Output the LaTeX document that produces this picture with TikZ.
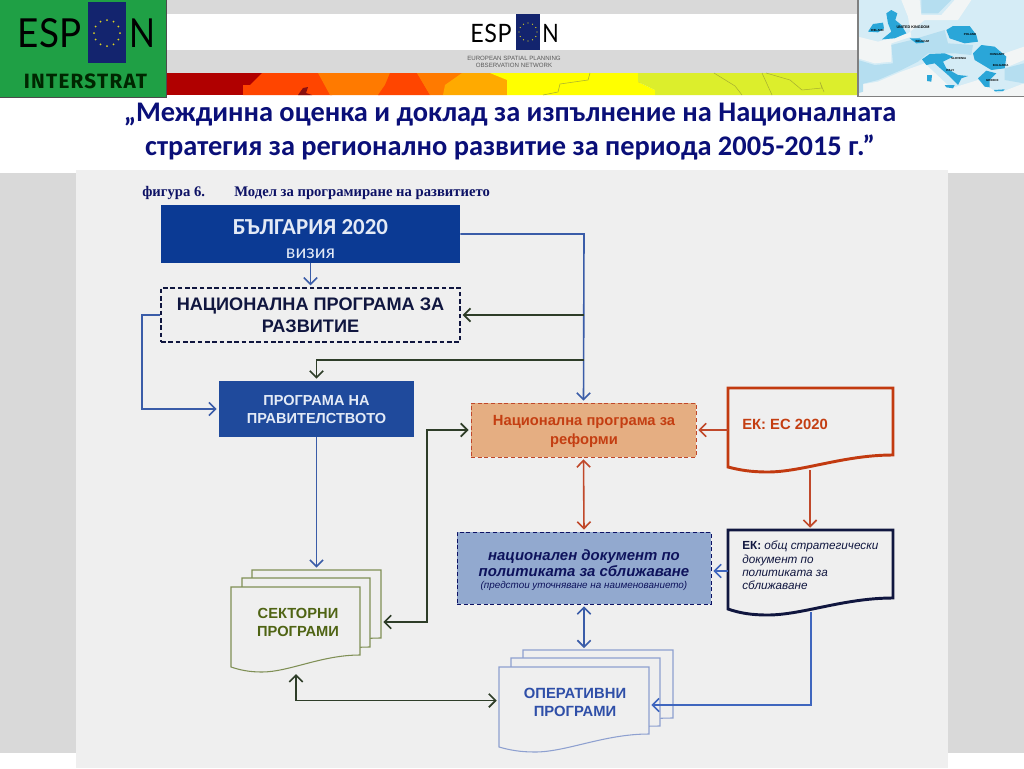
\documentclass[tikz,border=0pt]{standalone}
\usepackage{fontspec}
\setmainfont{Liberation Sans}
\newfontfamily\carl{Carlito}
\newfontfamily\serf{Liberation Serif}
\newfontfamily\latospaced[LetterSpace=2]{Lato}
\newfontfamily\firaspaced[LetterSpace=6]{Fira Sans}
\usetikzlibrary{arrows.meta,calc}
\definecolor{panel}{HTML}{EFEFEF}
\definecolor{band}{HTML}{D9D9D9}
\definecolor{logogreen}{HTML}{1FA045}
\definecolor{flagblue}{HTML}{13246E}
\definecolor{titleblue}{HTML}{0A0F78}
\definecolor{lineblue}{HTML}{3A5CA8}
\definecolor{lineblueb}{HTML}{3F66BE}
\definecolor{linegreen}{HTML}{2E3D28}
\definecolor{linered}{HTML}{C0482A}
\definecolor{navytext}{HTML}{10163F}
\definecolor{redtext}{HTML}{C43E12}
\definecolor{mapblue}{HTML}{2AA6D8}
\definecolor{mapmid}{HTML}{B5DEF0}
\definecolor{mappale}{HTML}{D5ECF6}
\definecolor{mapwhite}{HTML}{F2F5F5}
\definecolor{cDarkred}{HTML}{B00000}
\definecolor{cRedor}{HTML}{FF4500}
\definecolor{cOrange}{HTML}{FF7A00}
\definecolor{cGold}{HTML}{FFAA00}
\definecolor{cYellow}{HTML}{FFFF00}
\definecolor{cLime}{HTML}{DCEE2C}
\definecolor{cSpot}{HTML}{8A1010}
\definecolor{cBorder}{HTML}{A8B030}
\definecolor{bulgblue}{HTML}{0B3A94}
\definecolor{govblue}{HTML}{1F4A9C}
\definecolor{lighttext}{HTML}{E3EAF6}
\definecolor{reffill}{HTML}{E5AE82}
\definecolor{natfill}{HTML}{92A9CF}
\definecolor{olive}{HTML}{7F8F55}
\definecolor{olivetext}{HTML}{4F6414}
\definecolor{opline}{HTML}{8EA0D0}
\definecolor{optext}{HTML}{2F4FA8}
\definecolor{ekred}{HTML}{C23A10}
\tikzset{
  px/.style={x=0.75pt,y=-0.75pt},
  conn/.style={line width=1.2pt,shorten >=1.5pt,shorten <=0pt},
  head/.style={-{Straight Barb[length=5pt,width=10pt]}},
  twohead/.style={{Straight Barb[length=5pt,width=10pt]}-{Straight Barb[length=5pt,width=10pt]},shorten <=1.5pt},
  bluec/.style={conn,draw=lineblue},
  bluecb/.style={conn,draw=lineblueb},
  greenc/.style={conn,line width=1.3pt,draw=linegreen},
  redc/.style={conn,draw=linered},
  boxnode/.style={inner sep=0pt,align=center,font=\bfseries},
  areanode/.style={inner sep=0pt,align=center,font=\bfseries},
  mlabel/.style={font=\bfseries\fontsize{2.2}{3}\selectfont,inner sep=0pt},
  mapline/.style={draw=cBorder,line width=.4pt},
}
% \wavedoc{style}{xl}{xr}{yt}{yrb}{ylb}{ymin}
\newcommand\wavedoc[7]{%
  \draw[#1] (#2,#4) -- (#3,#4) -- (#3,#5)
    .. controls ({#3-0.3*(#3-#2)},#5) and ({#2+0.45*(#3-#2)},#7) .. ({#2+0.24*(#3-#2)},#7)
    .. controls ({#2+0.14*(#3-#2)},#7) and ({#2+0.07*(#3-#2)},{#7-2}) .. (#2,#6) -- cycle;}
\newcommand\euflag[4]{% cx cy radius dotsize
  \foreach \a in {0,30,...,330} \fill[yellow!85!black] ($(#1,#2)+(\a:#3*0.75pt)$) circle (#4);}
% area node spanning a rectangle: name, xl, xr, yt, yb, options, text
\newcommand\areabox[7]{%
  \node[#6,minimum width={(#3-#2)*0.75pt},minimum height={(#5-#4)*0.75pt}] (#1) at ({(#2+#3)/2},{(#4+#5)/2}) {#7};}
\begin{document}
\begin{tikzpicture}[px]
\useasboundingbox (0,0) rectangle (1024,768);
\fill[white] (0,0) rectangle (1024,768);
% background
\fill[band] (0,173) rectangle (1024,753);
\fill[panel] (76,170) rectangle (948,768);
% top strip
\fill[band] (166,0) rectangle (858,73);
\fill[white] (166,14) rectangle (858,50);
% colour map band
\fill[cOrange] (166,73) rectangle (640,95);
\fill[cDarkred] (166,73) rectangle (262,95);
\fill[cRedor] (262,73) -- (320,73) -- (332,95) -- (243,95) -- (243,85) -- (250,85) -- cycle;
\fill[cOrange] (318,73) -- (392,73) -- (380,95) -- (330,95) -- cycle;
\fill[cRedor] (390,73) -- (417,73) -- (427,90) -- (430,95) -- (378,95) -- (385,85) -- cycle;
\fill[cOrange] (417,73) -- (462,73) -- (440,85) -- (443,95) -- (430,95) -- cycle;
\fill[cGold] (462,73) -- (492,73) -- (507,80) -- (507,95) -- (443,95) -- (445,85) -- cycle;
\fill[cYellow] (490,73) -- (638,73) -- (638,82) -- (655,90) -- (655,95) -- (507,95) -- (507,80) -- cycle;
\fill[cLime] (638,73) -- (858,73) -- (858,95) -- (655,95) -- (655,90) -- (638,82) -- cycle;
\fill[cSpot] (298,95) -- (303,88) -- (308,87) -- (306,93) -- (312,95) -- cycle;
\draw[mapline] (590,73) -- (588,80) -- (560,84) -- (558,92) -- (543,95);
\draw[mapline] (714,73) -- (735,86) -- (742,95);
\draw[mapline] (762,73) -- (772,95);
\draw[mapline] (766,73) -- (790,80) -- (802,90) -- (822,88) -- (820,82) -- (824,92);
% centre ESPON logo
\fill[flagblue] (516,14) rectangle (540,50);
\euflag{528}{32}{9}{.7}
\node[font=\latospaced\fontsize{19}{19}\selectfont,text=black,inner sep=0pt,transform shape,xscale=.92] (espcA) at (491,33) {ESP};
\node[font=\latospaced\fontsize{19}{19}\selectfont,text=black,inner sep=0pt,transform shape,xscale=.85] (espcB) at (550.5,33) {N};
\node[font=\fontsize{4.6}{5.4}\selectfont,text=black!65,align=center,inner sep=0pt] (espcC) at (514,61.5) {EUROPEAN SPATIAL PLANNING\\OBSERVATION NETWORK};
% green logo
\fill[logogreen] (0,0) rectangle (166,97);
\draw[black!70,line width=.5pt] (166,0) -- (166,97) -- (0,97);
\fill[flagblue] (88,2) rectangle (126,63);
\euflag{107}{33}{13}{1}
\node[font=\latospaced\fontsize{30}{30}\selectfont,text=black,inner sep=0pt,transform shape,xscale=.92] (esplA) at (49.5,33) {ESP};
\node[font=\latospaced\fontsize{30}{30}\selectfont,text=black,inner sep=0pt,transform shape,xscale=.85] (esplB) at (142,33) {N};
\node[font=\firaspaced\bfseries\fontsize{15.5}{16}\selectfont,text=black!85!green,inner sep=0pt] (esplC) at (85.5,81) {INTERSTRAT};
% European map
\begin{scope}[shift={(858,0)},x=0.25pt,y=-0.25pt]
\begin{scope}
\clip (0,0) rectangle (498,288);
\fill[mappale] (0,0) rectangle (498,288);
\fill[mapwhite] (0,110) -- (60,125) -- (150,100) -- (200,60) -- (300,60) -- (340,0) -- (290,0) -- (250,45) -- (190,45) -- (185,0) -- (130,0) -- (150,50) -- (160,110) -- (100,130) -- (100,185) -- (50,190) -- (0,175) -- cycle;
\fill[mapmid] (190,0) -- (280,0) -- (240,40) -- (190,40) -- cycle;
\fill[mapmid] (100,135) -- (160,120) -- (260,90) -- (270,130) -- (345,135) -- (340,165) -- (290,160) -- (210,160) -- (180,185) -- (130,210) -- (60,240) -- (0,255) -- (0,180) -- (50,195) -- (105,190) -- cycle;
\fill[mappale] (300,60) -- (498,20) -- (498,130) -- (450,165) -- (360,130) -- (360,80) -- cycle;
\fill[mapwhite] (0,255) -- (60,245) -- (130,215) -- (200,190) -- (280,265) -- (360,240) -- (420,280) -- (498,250) -- (498,288) -- (0,288) -- cycle;
\fill[mapmid] (0,250) -- (15,250) -- (15,275) -- (0,280) -- cycle;
\fill[mapwhite] (440,160) -- (498,140) -- (498,180) -- (450,200) -- cycle;
\fill[mapmid] (440,205) -- (498,190) -- (498,250) -- (440,240) -- cycle;
\fill[mapblue] (30,95) -- (45,72) -- (75,68) -- (78,85) -- (60,97) -- cycle;
\fill[mapblue] (85,40) -- (100,30) -- (118,40) -- (112,60) -- (130,75) -- (145,100) -- (110,115) -- (72,118) -- (100,95) -- (90,70) -- cycle;
\fill[mapblue] (155,115) -- (185,115) -- (200,128) -- (175,130) -- cycle;
\fill[mapblue] (265,90) -- (285,78) -- (335,78) -- (355,105) -- (360,125) -- (320,130) -- (275,115) -- cycle;
\fill[mapblue] (345,160) -- (370,135) -- (410,140) -- (445,170) -- (440,205) -- (400,210) -- (375,195) -- (350,180) -- cycle;
\fill[mapblue] (360,235) -- (385,212) -- (415,220) -- (395,240) -- (395,262) -- (380,260) -- cycle;
\fill[mapblue] (192,178) -- (215,162) -- (260,160) -- (285,170) -- (255,185) -- (265,205) -- (300,225) -- (330,228) -- (310,235) -- (300,255) -- (270,225) -- (230,190) -- (205,195) -- cycle;
\fill[mapblue] (207,225) -- (222,225) -- (220,245) -- (207,243) -- cycle;
\fill[mapblue] (260,255) -- (290,255) -- (285,265) -- (265,262) -- cycle;
\fill[mapblue] (408,270) -- (440,268) -- (435,273) -- (410,274) -- cycle;
\end{scope}
\node[font=\bfseries\fontsize{2.8}{3}\selectfont,inner sep=0pt] (mUK) at (165,83) {UNITED KINGDOM};
\node[mlabel] (mIE) at (58,90) {IRELAND};
\node[mlabel] (mBE) at (193,125) {BELGIUM};
\node[mlabel] (mPL) at (336,103) {POLAND};
\node[mlabel] (mHU) at (418,162) {HUNGARY};
\node[mlabel] (mBG) at (428,197) {BULGARIA};
\node[mlabel] (mSI) at (302,174) {SLOVENIA};
\node[mlabel] (mIT) at (277,211) {ITALY};
\node[mlabel] (mGR) at (403,241) {GREECE};
\draw[black!50,line width=.8pt] (0,0) -- (0,289) -- (664,289);
\end{scope}
% title
\node[font=\carl\bfseries\fontsize{21.3}{25}\selectfont,text=titleblue,align=center,inner sep=0pt] (title) at (510,131.5) {„Междинна оценка и доклад за изпълнение на Националната\\стратегия за регионално развитие за периода 2005-2015 г.”};
% caption
\node[font=\serf\bfseries\fontsize{11}{12}\selectfont,text=navytext!80!blue,anchor=base west,inner sep=0pt] (capA) at (142,196.5) {фигура 6.};
\node[font=\serf\bfseries\fontsize{11}{12}\selectfont,text=navytext!80!blue,anchor=base west,inner sep=0pt] (capB) at (234,196.5) {Модел за програмиране на развитието};
% boxes
\areabox{bg}{161}{460}{205}{263}{fill=bulgblue}{}
\node[font=\carl\bfseries\fontsize{17.2}{18}\selectfont,text=lighttext,inner sep=0pt] (bgT) at (310.5,227) {БЪЛГАРИЯ 2020};
\node[font=\carl\fontsize{15}{16}\selectfont,text=lighttext,inner sep=0pt] (bgV) at (310.5,254) {визия};
\areabox{npr}{161}{460}{288}{342}{boxnode,draw=navytext,dash pattern=on 3.5pt off 2pt,line width=.9pt,text=navytext,font=\bfseries\fontsize{13.6}{16.5}\selectfont}{НАЦИОНАЛНА ПРОГРАМА ЗА\\РАЗВИТИЕ}
\areabox{gov}{219}{414}{381}{437}{boxnode,fill=govblue,text=lighttext,font=\bfseries\fontsize{10.9}{13.5}\selectfont}{ПРОГРАМА НА\\ПРАВИТЕЛСТВОТО}
\areabox{nrf}{471}{696}{403}{457}{boxnode,fill=reffill,draw=linered,densely dashed,line width=.6pt}{}
\node[font=\bfseries\fontsize{11.05}{13.8}\selectfont,text=redtext,align=center,inner sep=0pt] (nrfT) at (584,431.5) {Национална програма за\\реформи};
\areabox{nat}{457}{711}{532}{604}{boxnode,fill=natfill,draw=navytext!80!blue,densely dashed,line width=.7pt,text=navytext!85!blue}{}
\node[font=\bfseries\itshape\fontsize{11.2}{12.5}\selectfont,text=navytext!85!blue,align=center,inner sep=0pt] (natT) at (584,563) {национален документ по\\политиката за сближаване};
\node[font=\itshape\fontsize{7.4}{8}\selectfont,text=navytext!85!blue,inner sep=0pt] (natS) at (584,586) {(предстои уточняване на наименованието)};
% EC documents
\wavedoc{draw=ekred,line width=2.2pt,line join=miter}{728}{893}{388}{455}{467}{472}
\areabox{ekA}{728}{893}{388}{472}{areanode}{}
\node[font=\bfseries\fontsize{11.1}{12}\selectfont,text=redtext,anchor=west,inner sep=0pt] (ekAT) at (742,424) {ЕК: ЕС 2020};
\wavedoc{draw=navytext,line width=2.2pt,line join=miter}{728}{893}{530}{598}{609}{615}
\areabox{ekB}{728}{893}{530}{615}{areanode}{}
\node[font=\fontsize{8.8}{10}\selectfont,text=navytext,anchor=north west,align=left,inner sep=0pt] (ekBT) at (742,541) {\textbf{ЕК:} \textit{общ стратегически}\\\textit{документ по}\\\textit{политиката за}\\\textit{сближаване}};
% sector programmes stack
\wavedoc{draw=olive,fill=panel,line width=.8pt}{252}{381}{570}{638}{650}{650}
\areabox{secC}{252}{381}{570}{638}{areanode}{}
\wavedoc{draw=olive,fill=panel,line width=.8pt}{242}{370}{578}{647}{660}{660}
\areabox{secB}{242}{370}{578}{647}{areanode}{}
\wavedoc{draw=olive,fill=panel,line width=.8pt}{231}{360}{587}{655}{667}{672}
\areabox{secA}{231}{360}{587}{672}{areanode}{}
\node[font=\bfseries\fontsize{11}{13.1}\selectfont,text=olivetext,align=center,inner sep=0pt] (secT) at (298,622.5) {СЕКТОРНИ\\ПРОГРАМИ};
% operational programmes stack
\wavedoc{draw=opline,fill=panel,line width=.8pt}{523}{673}{650}{718}{730}{730}
\areabox{opC}{523}{673}{650}{718}{areanode}{}
\wavedoc{draw=opline,fill=panel,line width=.8pt}{511}{660}{658}{726}{738}{738}
\areabox{opB}{511}{660}{658}{726}{areanode}{}
\wavedoc{draw=opline,fill=panel,line width=.8pt}{499}{649}{667}{734}{747}{752}
\areabox{opA}{499}{649}{667}{752}{areanode}{}
\node[font=\bfseries\fontsize{11.1}{13.5}\selectfont,text=optext,align=center,inner sep=0pt] (opT) at (575,702) {ОПЕРАТИВНИ\\ПРОГРАМИ};
% junctions
\coordinate (jTop) at (584,234);
\coordinate (jMid) at (584,315);
\coordinate (jGov) at (584,360);
\coordinate (jL) at (142,315);
\coordinate (jL2) at (142,409);
\coordinate (jS) at (427,622);
\coordinate (jN) at (427,430);
\coordinate (jSO) at (296,700.5);
\coordinate (jEkB) at (811,705);
\coordinate (jEkR) at (728,571);
\coordinate (jSecBot) at (296,672);
\coordinate (jEkBot) at (811,612);
\coordinate (jEkAbot) at (810,470);
\coordinate (jOpTop) at (584,650);
% connectors
\draw[bluec,head] (bg.south) -- (npr.north);
\draw[bluec,head] (bg.east) -- (jTop) -- (nrf.north);
\draw[greenc,head] (jMid) -- (npr.east);
\draw[greenc,head] (jGov) -- (jGov -| gov.north) -- (gov.north);
\draw[bluec,head] (npr.west) -- (jL) -- (jL2) -- (gov.west);
\draw[bluec,head] (gov.south) -- (secC.north);
\draw[greenc,twohead] (secC.east |- jS) -- (jS) -- (jN) -- (nrf.west);
\draw[redc,twohead] (nrf.south) -- (nat.north);
\draw[redc,head] (ekA.west |- nrf.west) -- (nrf.east);
\draw[redc,head] (jEkAbot) -- (ekB.north -| jEkAbot);
\draw[bluecb,head] (jEkR) -- (nat.east |- jEkR);
\draw[bluec,twohead] (nat.south) -- (jOpTop);
\draw[greenc,twohead] (jSecBot) -- (jSO) -- (opA.west |- jSO);
\draw[bluecb,head] (jEkBot) -- (jEkB) -- (opA.east |- jEkB);
\end{tikzpicture}
\end{document}
